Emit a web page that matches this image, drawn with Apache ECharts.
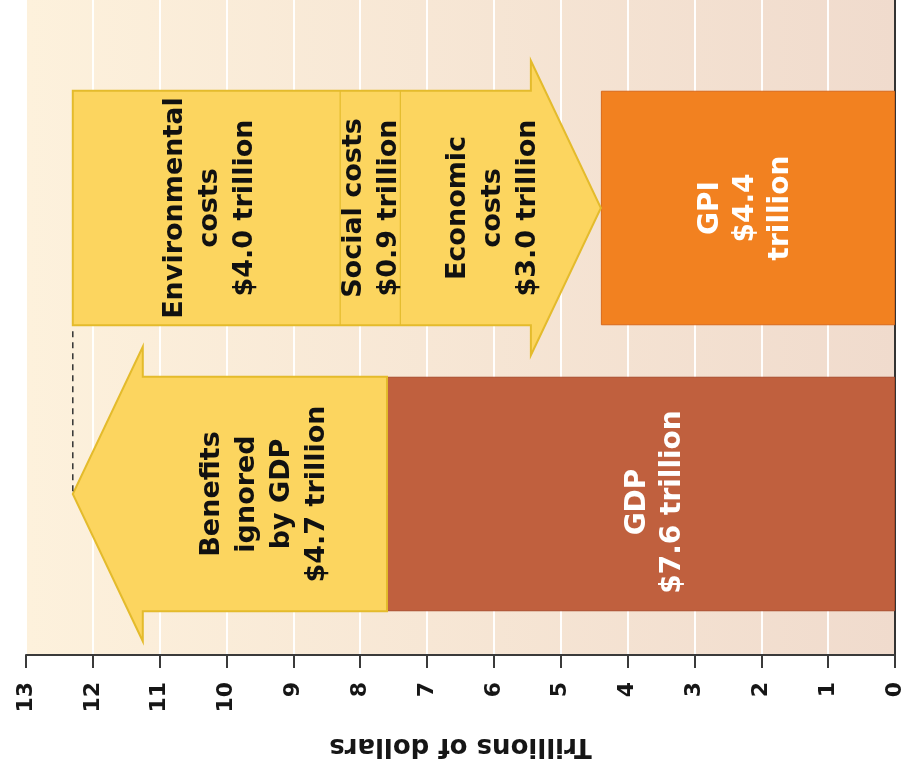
<!DOCTYPE html>
<html>
<head>
<meta charset="utf-8">
<title>GDP vs GPI</title>
<script src="https://cdn.jsdelivr.net/npm/echarts@6/dist/echarts.min.js"></script>
<style>
  html, body { margin: 0; padding: 0; background: #ffffff; }
  #chart { width: 910px; height: 772px; }
</style>
</head>
<body>
<div id="chart"></div>
<script>
// Rows of the chart (bottom to top)
const categories = ['GDP', 'GPI'];

// Headline totals, trillions of dollars
const gdpValue = 7.6;
const gpiValue = 4.4;

// Benefits that GDP leaves out
const benefitsName = 'Benefits\nignored\nby GDP';
const benefitsValue = 4.7;

// Costs subtracted on the way from GDP + benefits down to GPI
const costNames = ['Environmental\ncosts', 'Social costs', 'Economic\ncosts'];
const costValues = [4.0, 0.9, 3.0];

// Value axis range
const axisMin = 0;
const axisMax = 13;
const axisStep = 1;

const FONT = '"DejaVu Sans", "Liberation Sans", Arial, sans-serif';
const ARROW_FILL = '#fcd55f';
const ARROW_EDGE = '#e4bb2c';

const fmt = v => '$' + v.toFixed(1) + ' trillion';

const benefitsTop = gdpValue + benefitsValue;
const costsEnd = costValues.reduce((acc, v) => acc - v, benefitsTop);

// Arrow rows: [start value, end value, category index]
const arrowData = [
  [gdpValue, benefitsTop, 0],
  [benefitsTop, costsEnd, 1]
];

const chart = echarts.init(document.getElementById('chart'), null, { renderer: 'canvas' });

function arrowShape(x0, x1, cy, shaftHalf, headHalf, headLen) {
  const dir = x1 > x0 ? 1 : -1;
  const neck = x1 - dir * headLen;
  return {
    neck: neck,
    points: [
      [x0, cy - shaftHalf], [neck, cy - shaftHalf], [neck, cy - headHalf],
      [x1, cy], [neck, cy + headHalf], [neck, cy + shaftHalf], [x0, cy + shaftHalf]
    ]
  };
}

function darkText(x, y, text) {
  return {
    type: 'text', x: x, y: y, rotation: Math.PI / 2, z2: 10,
    style: {
      text: text, x: 0, y: 0, align: 'center', verticalAlign: 'middle',
      fill: '#111111', font: 'bold 27px ' + FONT, lineHeight: 35
    }
  };
}

function renderArrow(params, api) {
  const start = api.value(0);
  const end = api.value(1);
  const cat = api.value(2);
  const p0 = api.coord([start, cat]);
  const p1 = api.coord([end, cat]);
  const band = api.size([0, 1])[1];
  const shaftHalf = band * 0.41;
  const headHalf = shaftHalf + 30;
  const headLen = 70;
  const cy = p0[1];
  const shape = arrowShape(p0[0], p1[0], cy, shaftHalf, headHalf, headLen);
  const children = [{
    type: 'polygon',
    shape: { points: shape.points },
    style: { fill: ARROW_FILL, stroke: ARROW_EDGE, lineWidth: 2, lineJoin: 'miter' }
  }];

  if (params.dataIndex === 0) {
    // Benefits arrow, label centred on the shaft
    children.push(darkText((p0[0] + shape.neck) / 2, cy, benefitsName + '\n' + fmt(benefitsValue)));
    // Dashed guide from the costs arrow down to the benefits tip
    const upper = api.coord([end, 1]);
    children.push({
      type: 'line',
      shape: { x1: p1[0], y1: upper[1] + shaftHalf + 6, x2: p1[0], y2: cy },
      style: { stroke: '#333333', lineWidth: 1.5, lineDash: [6, 5] }
    });
  } else {
    // Costs arrow split into its three parts
    let acc = start;
    const edges = [p0[0]];
    costValues.forEach(v => { acc -= v; edges.push(api.coord([acc, cat])[0]); });
    for (let i = 1; i < edges.length - 1; i++) {
      children.push({
        type: 'line',
        shape: { x1: edges[i], y1: cy - shaftHalf, x2: edges[i], y2: cy + shaftHalf },
        style: { stroke: ARROW_EDGE, lineWidth: 1.2 }
      });
    }
    const shifts = [3, 1, -8];
    costNames.forEach((name, i) => {
      const cx = (edges[i] + edges[i + 1]) / 2 + shifts[i];
      children.push(darkText(cx, cy, name + '\n' + fmt(costValues[i])));
    });
  }
  return { type: 'group', children: children };
}

const option = {
  animation: false,
  grid: [
    {
      left: 26, right: 15, top: 0, bottom: 117, show: true, borderWidth: 0,
      backgroundColor: new echarts.graphic.LinearGradient(0, 0, 1, 0, [
        { offset: 0, color: '#fdf1dc' },
        { offset: 1, color: '#f0dbcd' }
      ])
    },
    { left: 26, right: 15, top: 65, bottom: 135 }
  ],
  xAxis: [
    {
      gridIndex: 0, type: 'value', inverse: true,
      min: axisMin, max: axisMax, interval: axisStep,
      axisLine: { show: true, onZero: false, lineStyle: { color: '#3a3a3a', width: 2 } },
      axisTick: { show: true, length: 13, lineStyle: { color: '#3a3a3a', width: 2 } },
      axisLabel: { rotate: 90, margin: 27, color: '#161616', fontFamily: FONT, fontWeight: 'bold', fontSize: 22 },
      splitLine: { show: true, lineStyle: { color: 'rgba(255,255,255,0.95)', width: 2 } },
      name: 'Trillions of dollars', nameLocation: 'middle', nameGap: 78, nameRotate: 180,
      nameTextStyle: { color: '#161616', fontFamily: FONT, fontWeight: 'bold', fontSize: 26 }
    },
    {
      gridIndex: 1, type: 'value', inverse: true,
      min: axisMin, max: axisMax, interval: axisStep, show: false
    }
  ],
  yAxis: [
    {
      gridIndex: 0, type: 'value', min: 0, max: 1, position: 'right',
      axisLine: { show: true, lineStyle: { color: '#333333', width: 2 } },
      axisTick: { show: false }, axisLabel: { show: false }, splitLine: { show: false }
    },
    { gridIndex: 1, type: 'category', data: categories, show: false }
  ],
  series: [
    {
      type: 'bar', xAxisIndex: 1, yAxisIndex: 1, barWidth: '82%',
      data: [
        {
          value: gdpValue,
          itemStyle: { color: '#c0603e', borderColor: '#a94b2c', borderWidth: 1 },
          label: { formatter: categories[0] + '\n' + fmt(gdpValue), offset: [-8, 14] }
        },
        {
          value: gpiValue,
          itemStyle: { color: '#f28120', borderColor: '#d8691a', borderWidth: 1 },
          label: { formatter: categories[1] + '\n$' + gpiValue.toFixed(1) + '\ntrillion', offset: [0, -2] }
        }
      ],
      label: {
        show: true, position: 'inside', rotate: 90, align: 'center', verticalAlign: 'middle',
        color: '#ffffff', fontFamily: FONT, fontWeight: 'bold', fontSize: 28, lineHeight: 35
      }
    },
    {
      type: 'custom', xAxisIndex: 1, yAxisIndex: 1,
      renderItem: renderArrow,
      data: arrowData,
      z: 3
    }
  ]
};

chart.setOption(option);
</script>
</body>
</html>
